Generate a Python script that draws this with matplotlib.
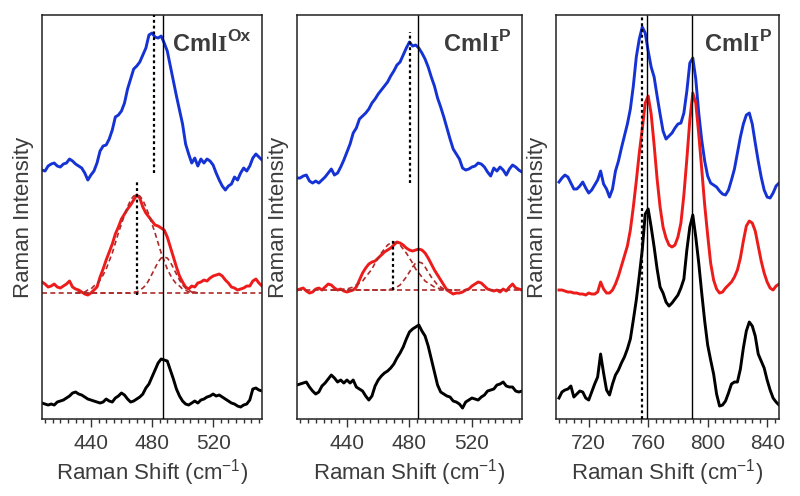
import matplotlib.pyplot as plt
import numpy as np
from matplotlib.ticker import MultipleLocator

plt.rcParams["font.family"] = ["Liberation Sans", "DejaVu Sans"]
plt.rcParams["mathtext.fontset"] = "custom"
plt.rcParams["mathtext.rm"] = "Liberation Sans"

# Raman shift grids (cm-1)
shift_low = np.arange(408, 553, 2)
shift_high = np.arange(700, 849, 2)
fit_shift = np.arange(430, 511, 2)

# panel 1: CmlI-Ox, 400-550 region
ox_blue = [24.9, 24.8, 25.3, 25.5, 25.6, 25.3, 25.2, 25.5, 25.6, 26.0,
           25.8, 25.5, 25.3, 25.1, 24.6, 23.9, 24.4, 24.8, 25.6, 26.8,
           27.3, 27.4, 28.0, 28.9, 30.2, 30.4, 30.8, 31.6, 33.0, 34.0,
           35.0, 35.3, 35.7, 36.4, 37.1, 38.4, 38.6, 38.2, 38.1, 38.3,
           37.6, 36.8, 35.3, 33.8, 32.3, 30.9, 29.5, 27.5, 26.5, 25.6,
           26.1, 25.3, 26.0, 25.6, 26.0, 25.8, 25.4, 24.6, 23.9, 23.3,
           22.9, 23.3, 23.5, 24.2, 23.9, 24.6, 25.1, 24.8, 25.3, 26.1,
           26.5, 26.2, 25.9]
ox_red = [13.7, 13.5, 13.2, 13.3, 13.5, 13.2, 13.1, 13.3, 13.5, 13.8,
          13.2, 13.0, 12.9, 12.7, 12.5, 12.4, 12.6, 12.9, 13.2, 14.2,
          15.0, 15.9, 16.7, 17.5, 18.5, 19.2, 20.0, 20.5, 21.0, 21.4,
          21.9, 22.4, 22.1, 21.2, 20.6, 20.2, 19.8, 19.4, 19.3, 19.1,
          18.9, 18.2, 17.2, 16.2, 15.2, 14.3, 13.7, 13.2, 13.0, 13.3,
          13.2, 13.6, 13.7, 13.9, 13.8, 14.1, 14.3, 14.4, 14.5, 14.3,
          13.9, 13.6, 13.2, 13.1, 12.9, 13.0, 13.1, 13.3, 13.3, 13.8,
          14.0, 13.6, 13.3]
ox_black = [1.6, 1.5, 1.4, 1.5, 1.4, 1.7, 1.8, 1.9, 2.1, 2.3,
            2.6, 2.7, 2.5, 2.4, 2.2, 2.0, 1.9, 1.8, 1.7, 1.6,
            1.7, 2.0, 1.8, 1.7, 2.1, 2.3, 2.6, 2.4, 2.0, 1.7,
            1.8, 2.0, 2.2, 2.5, 3.1, 3.5, 4.2, 4.9, 5.6, 6.0,
            5.9, 5.8, 4.9, 4.0, 3.0, 2.3, 1.8, 1.5, 1.4, 1.6,
            1.8, 1.6, 1.9, 2.0, 2.2, 2.3, 2.5, 2.3, 2.4, 2.2,
            2.0, 1.8, 1.6, 1.5, 1.3, 1.2, 1.4, 1.5, 1.9, 3.0,
            3.1, 2.9, 2.8]
ox_base = 12.6
ox_fit1 = [12.6, 12.7, 12.7, 12.7, 12.9, 13.0, 13.3, 13.5, 13.9, 14.4,
           15.0, 15.8, 16.6, 17.6, 18.6, 19.5, 20.4, 21.2, 21.9, 22.3,
           22.4, 22.3, 21.9, 21.2, 20.4, 19.5, 18.6, 17.6, 16.6, 15.8,
           15.0, 14.4, 13.9, 13.5, 13.3, 13.0, 12.9, 12.7, 12.7, 12.7,
           12.6]
ox_fit2 = [12.6, 12.6, 12.6, 12.6, 12.6, 12.6, 12.6, 12.6, 12.6, 12.6,
           12.6, 12.6, 12.6, 12.6, 12.6, 12.6, 12.6, 12.6, 12.6, 12.7,
           12.7, 12.9, 13.1, 13.4, 13.9, 14.5, 15.1, 15.7, 16.1, 16.2,
           16.1, 15.7, 15.1, 14.5, 13.9, 13.4, 13.1, 12.9, 12.7, 12.7,
           12.6]

# panel 2: CmlI-P, 400-550 region
p_blue = [24.1, 24.1, 24.3, 24.4, 23.8, 23.6, 23.8, 23.6, 23.9, 24.2,
          24.6, 25.0, 24.4, 24.6, 25.2, 25.9, 26.7, 27.5, 28.6, 29.1,
          30.0, 30.3, 30.6, 31.0, 31.6, 32.0, 32.5, 32.9, 33.3, 33.7,
          34.3, 34.8, 35.4, 35.7, 36.4, 37.1, 37.7, 37.3, 37.4, 37.1,
          36.6, 36.0, 35.2, 34.2, 33.3, 32.1, 31.2, 30.2, 29.1, 28.0,
          27.0, 26.5, 26.0, 25.1, 24.9, 25.0, 25.2, 25.3, 25.6, 25.5,
          25.2, 24.7, 24.3, 25.1, 24.8, 25.2, 24.9, 24.4, 25.0, 25.4,
          25.2, 24.9, 24.7]
p_red = [12.9, 13.0, 13.1, 12.8, 12.6, 12.7, 13.0, 13.1, 12.9, 13.2,
         13.5, 13.4, 13.1, 12.9, 13.0, 12.8, 12.7, 12.8, 12.9, 13.2,
         13.9, 14.6, 15.1, 15.5, 15.7, 15.8, 16.1, 16.4, 16.7, 16.9,
         17.1, 17.4, 17.7, 17.6, 17.4, 17.1, 16.9, 16.8, 16.9, 17.0,
         16.9, 16.6, 16.1, 15.5, 14.9, 14.4, 13.9, 13.4, 12.9, 12.7,
         12.5, 12.6, 12.6, 12.7, 12.9, 13.0, 13.3, 13.5, 13.7, 13.6,
         13.3, 13.0, 12.9, 12.8, 12.9, 12.7, 13.0, 12.8, 13.2, 13.5,
         13.1, 13.0, 12.9]
p_black = [3.4, 3.5, 3.6, 3.7, 3.2, 2.8, 2.5, 2.7, 3.3, 3.6,
           4.0, 4.4, 4.1, 3.7, 3.9, 3.6, 3.9, 3.6, 3.9, 3.2,
           3.0, 2.8, 2.3, 1.9, 2.3, 3.3, 3.9, 4.3, 4.6, 4.8,
           5.1, 5.5, 6.1, 6.6, 7.2, 8.0, 8.7, 9.0, 9.2, 9.4,
           8.8, 8.3, 7.3, 6.0, 4.7, 3.4, 2.7, 2.5, 2.3, 2.2,
           1.8, 1.7, 1.5, 1.1, 1.7, 1.9, 2.1, 2.0, 1.9, 2.2,
           2.4, 2.8, 2.9, 3.0, 3.4, 3.5, 3.7, 3.3, 3.2, 3.2,
           2.8, 2.7, 2.8]
p_base = 12.9
p_fit1 = [12.9, 12.9, 12.9, 12.9, 13.0, 13.0, 13.1, 13.2, 13.4, 13.6,
          13.8, 14.2, 14.6, 15.0, 15.6, 16.1, 16.6, 17.0, 17.4, 17.6,
          17.7, 17.6, 17.4, 17.0, 16.6, 16.1, 15.6, 15.0, 14.6, 14.2,
          13.8, 13.6, 13.4, 13.2, 13.1, 13.0, 13.0, 12.9, 12.9, 12.9,
          12.9]
p_fit2 = [12.9, 12.9, 12.9, 12.9, 12.9, 12.9, 12.9, 12.9, 12.9, 12.9,
          12.9, 12.9, 12.9, 12.9, 12.9, 12.9, 12.9, 12.9, 12.9, 13.0,
          13.0, 13.2, 13.4, 13.8, 14.2, 14.7, 15.2, 15.6, 15.7, 15.6,
          15.2, 14.7, 14.2, 13.8, 13.4, 13.2, 13.0, 13.0, 12.9, 12.9,
          12.9]

# panel 3: CmlI-P, 700-850 region
hi_blue = [23.7, 24.1, 24.4, 24.2, 23.6, 23.0, 23.0, 23.3, 23.7, 23.1,
           22.6, 22.9, 23.4, 23.9, 24.8, 23.5, 23.0, 22.2, 23.0, 24.8,
           25.8, 27.1, 28.3, 29.5, 31.0, 33.3, 36.2, 38.0, 39.2, 38.6,
           36.8, 35.2, 34.2, 32.3, 30.5, 28.8, 28.0, 28.3, 28.6, 29.1,
           29.5, 29.6, 30.6, 32.8, 35.6, 36.1, 34.0, 30.6, 27.9, 25.8,
           24.3, 23.6, 23.4, 23.2, 22.8, 22.5, 22.4, 22.9, 23.9, 25.0,
           26.6, 28.2, 29.5, 30.4, 30.6, 29.5, 27.6, 25.8, 24.2, 22.9,
           22.2, 22.1, 22.6, 23.3, 23.6]
hi_red = [12.9, 12.9, 12.8, 12.7, 12.7, 12.6, 12.6, 12.5, 12.5, 12.4,
          12.6, 12.5, 12.5, 12.7, 13.7, 13.0, 12.6, 12.6, 12.9, 13.5,
          14.3, 15.3, 16.3, 17.3, 18.9, 21.2, 23.8, 26.6, 29.0, 31.6,
          32.3, 30.5, 27.4, 24.0, 21.2, 19.2, 18.1, 17.4, 17.2, 17.4,
          18.2, 19.6, 22.4, 26.0, 29.9, 32.6, 31.6, 28.5, 25.0, 21.4,
          18.4, 15.6, 13.9, 13.0, 12.6, 12.7, 13.1, 13.4, 13.7, 14.2,
          14.9, 16.1, 17.8, 19.3, 19.8, 19.6, 18.8, 17.3, 15.8, 14.6,
          13.7, 13.1, 12.9, 13.3, 13.5]
hi_black = [2.1, 2.7, 2.9, 3.0, 3.3, 2.2, 2.5, 2.8, 2.7, 2.1,
            1.9, 2.7, 3.5, 4.2, 6.5, 4.6, 2.9, 2.4, 3.5, 4.4,
            4.9, 5.6, 6.2, 7.0, 8.0, 9.9, 11.9, 14.3, 16.9, 20.5,
            21.0, 19.2, 17.2, 15.0, 13.2, 12.6, 11.7, 11.3, 11.6, 12.0,
            12.4, 13.1, 14.0, 16.9, 19.2, 20.4, 18.2, 15.6, 12.6, 9.8,
            7.4, 5.9, 4.5, 2.5, 1.3, 1.4, 1.8, 2.6, 3.5, 3.7,
            3.7, 5.0, 7.1, 8.8, 9.7, 9.3, 8.3, 6.5, 5.8, 5.1,
            3.9, 2.9, 2.1, 1.7, 1.4]

# marker lines: (position, bottom, top)
ox_dotted = [(481.5, 24.6, 40.4), (470.0, 12.4, 23.9)]
ox_solid = [487.0]
p_dotted = [(480.6, 23.6, 38.7), (469.2, 12.9, 17.9)]
p_solid = [485.2]
hi_dotted = [(756.0, 0.0, 40.4)]
hi_solid = [759.4, 789.5]

# panel labels: "Cml" + serif "I" + superscript
label_sup = ["Ox", "P", "P"]

BLUE = "#1533d4"
RED = "#ee1b1b"
FIT = "#b02a2a"
TEXT = "#3c3c3c"
YMAX = 40.4

fig = plt.figure(figsize=(8, 4.96), dpi=100)
rects = [[0.0525, 0.1552, 0.2750, 0.8145],
         [0.3712, 0.1552, 0.2812, 0.8145],
         [0.6950, 0.1552, 0.2788, 0.8145]]
axes = [fig.add_axes(r) for r in rects]


def panel_label(ax, x0, sup):
    t1 = ax.text(x0, 0.911, "Cml", transform=ax.transAxes, ha="left",
                 va="baseline", fontsize=17, fontweight="bold", color=TEXT)
    t2 = ax.annotate("I", xy=(1, 0), xycoords=t1, ha="left", va="bottom",
                     fontsize=17, fontweight="bold", color=TEXT,
                     family="Liberation Serif")
    ax.annotate(sup, xy=(1, 1), xycoords=t2, xytext=(0.5, 4.5),
                textcoords="offset points", ha="left", va="top",
                fontsize=12.5, fontweight="bold", color=TEXT)


def style(ax, xlim):
    ax.set_xlim(*xlim)
    ax.set_ylim(0, YMAX)
    ax.xaxis.set_major_locator(MultipleLocator(40))
    ax.xaxis.set_minor_locator(MultipleLocator(5))
    ax.tick_params(axis="x", which="major", direction="out", length=5.5,
                   width=1.0, pad=5, labelsize=15, colors="#333333",
                   labelcolor=TEXT)
    ax.tick_params(axis="x", which="minor", direction="out", length=3,
                   width=1.0, colors="#333333")
    ax.tick_params(axis="y", left=False, labelleft=False)
    for sp in ax.spines.values():
        sp.set_linewidth(1.1)
        sp.set_color("#222222")
    ax.set_xlabel("Raman Shift (cm$^{-1}$)", fontsize=16, color=TEXT,
                  labelpad=3)
    ax.set_ylabel("Raman Intensity", fontsize=16, color=TEXT, labelpad=6)


def markers(ax, dotted, solid):
    for pos, lo, hi in dotted:
        ax.vlines(pos, lo, hi, colors="black", linewidth=1.6,
                  linestyles=(0, (1.3, 1.3)), zorder=4)
    for pos in solid:
        ax.vlines(pos, 0, YMAX, colors="black", linewidth=1.0, zorder=4)


lw = 2.1

# panel 1
ax = axes[0]
ax.plot(shift_low, ox_blue, color=BLUE, lw=lw)
ax.plot(shift_low, ox_red, color=RED, lw=lw)
ax.plot(shift_low, ox_black, color="black", lw=lw)
ax.hlines(ox_base, shift_low[0], shift_low[-1], colors=FIT, lw=1.2,
          linestyles=(0, (3, 2)))
ax.plot(fit_shift, ox_fit1, color=FIT, lw=1.2, ls=(0, (3, 2)))
ax.plot(fit_shift, ox_fit2, color=FIT, lw=1.2, ls=(0, (3, 2)))
markers(ax, ox_dotted, ox_solid)
style(ax, (408, 552))
panel_label(ax, 0.594, label_sup[0])

# panel 2
ax = axes[1]
ax.plot(shift_low, p_blue, color=BLUE, lw=lw)
ax.plot(shift_low, p_red, color=RED, lw=lw)
ax.plot(shift_low, p_black, color="black", lw=lw)
ax.hlines(p_base, shift_low[0], shift_low[-1], colors=FIT, lw=1.2,
          linestyles=(0, (3, 2)))
ax.plot(fit_shift, p_fit1, color=FIT, lw=1.2, ls=(0, (3, 2)))
ax.plot(fit_shift, p_fit2, color=FIT, lw=1.2, ls=(0, (3, 2)))
markers(ax, p_dotted, p_solid)
style(ax, (408, 552))
panel_label(ax, 0.655, label_sup[1])

# panel 3
ax = axes[2]
ax.plot(shift_high, hi_blue, color=BLUE, lw=lw)
ax.plot(shift_high, hi_red, color=RED, lw=lw)
ax.plot(shift_high, hi_black, color="black", lw=lw)
markers(ax, hi_dotted, hi_solid)
style(ax, (698, 848))
panel_label(ax, 0.668, label_sup[2])

fig.savefig("out.png", dpi=100)
